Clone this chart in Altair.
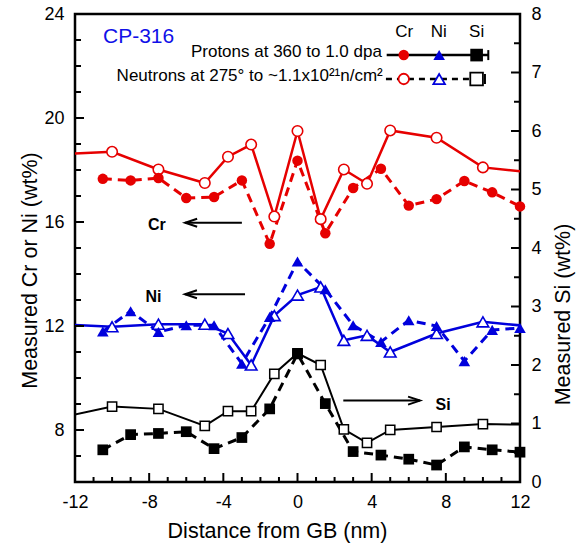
import altair as alt
import pandas as pd

# ---------------- data ----------------
# series drawn with solid lines (open markers) -- "Protons"
x_solid = [-12.5, -10, -7.5, -5, -3.75, -2.5, -1.25, 0, 1.25, 2.5, 3.75, 5, 7.5, 10, 12.5]
cr_solid = [18.62, 18.70, 18.02, 17.50, 18.51, 18.98, 16.21, 19.50, 16.11, 18.02, 17.47, 19.52, 19.24, 18.10, 17.92]
ni_solid = [12.05, 11.97, 12.07, 12.07, 11.71, 10.50, 12.40, 13.19, 13.50, 11.45, 11.64, 11.00, 11.71, 12.16, 11.99]
si_solid = [1.12, 1.29, 1.25, 0.96, 1.21, 1.21, 1.85, 2.20, 2.00, 0.90, 0.67, 0.89, 0.94, 0.99, 0.98]

# series drawn with dashed lines (filled markers) -- "Neutrons"
x_dashed = [-10.5, -9, -7.5, -6, -4.5, -3, -1.5, 0, 1.5, 3, 4.5, 6, 7.5, 9, 10.5, 12]
cr_dashed = [17.66, 17.60, 17.69, 16.92, 16.96, 17.60, 15.16, 18.36, 15.57, 17.31, 18.05, 16.63, 16.88, 17.58, 17.14, 16.60]
ni_dashed = [11.79, 12.57, 11.77, 12.03, 12.03, 10.55, 12.35, 14.48, 13.41, 12.03, 11.39, 12.22, 12.00, 10.65, 11.85, 11.92]
si_dashed = [0.55, 0.81, 0.83, 0.86, 0.57, 0.76, 1.25, 2.19, 1.34, 0.52, 0.46, 0.39, 0.29, 0.60, 0.55, 0.51]

elements = ["Cr", "Ni", "Si"]

# axis ticks
x_labels = [-12, -8, -4, 0, 4, 8, 12]
x_minor = [v for v in range(-11, 12) if v % 4 != 0]
left_labels = [8, 12, 16, 20, 24]
left_major = [8, 12, 16, 20]
left_minor = [v for v in range(7, 24) if v % 4 != 0]
right_labels = [0, 1, 2, 3, 4, 5, 6, 7, 8]
right_major = [1, 2, 3, 4, 5, 6, 7]
right_minor = [0.5, 1.5, 2.5, 3.5, 4.5, 5.5, 6.5, 7.5]

# annotations (placed on the left scale)
ann_text = ["Cr", "Ni", "Si"]
ann_x = [-7.58, -7.77, 7.85]
ann_y = [15.88, 13.10, 8.96]
arrow_x_start = [-3.0, -2.83, 2.47]
arrow_x_tip = [-6.06, -6.07, 6.61]
arrow_y = [15.97, 13.22, 9.13]

# hand-made legend
legend_title = "CP-316"
legend_title_xy = (-10.49, 23.12)
legend_head_x = [5.75, 7.62, 9.66]
legend_head_y = 23.31
legend_labels = ["Protons at 360 to 1.0 dpa", "Neutrons at 275° to ~1.1x10²¹n/cm²"]
legend_label_x = [4.55, 4.60]
legend_label_y = [22.55, 21.62]
legend_line_x = [[4.81, 10.29], [4.77, 10.11]]
legend_line_y = [22.42, 21.50]
legend_marker_x = [5.73, 7.64, 9.66]

# ---------------- styling ----------------
RED = "#e60000"
BLUE = "#0000dc"
FONT = "Liberation Sans"
W, H = 445, 468

rows = []
for el, ys in zip(elements, [cr_solid, ni_solid, si_solid]):
    for xv, yv in zip(x_solid, ys):
        rows.append({"el": el, "series": "solid", "x": xv, "y": yv})
for el, ys in zip(elements, [cr_dashed, ni_dashed, si_dashed]):
    for xv, yv in zip(x_dashed, ys):
        rows.append({"el": el, "series": "dashed", "x": xv, "y": yv})
df = pd.DataFrame(rows)

xs = alt.Scale(domain=[-12, 12], nice=False, zero=False)
ysl = alt.Scale(domain=[6, 24], nice=False, zero=False)
ysr = alt.Scale(domain=[0, 8], nice=False, zero=False)
col = alt.Scale(domain=elements, range=[RED, BLUE, "black"])
shp = alt.Scale(domain=elements, range=["circle", "triangle-up", "square"])
size_open = alt.Scale(domain=elements, range=[110, 160, 85])
size_fill = alt.Scale(domain=elements, range=[130, 180, 115])

x_axis = alt.Axis(values=x_labels, ticks=False, domain=False, grid=False, labelFlush=False,
                  labelExpr="'' + datum.value",
                  labelFontSize=18, labelPadding=11, labelColor="black",
                  title="Distance from GB (nm)", titleFontSize=21.5, titleFontWeight="normal",
                  titleColor="black", titleX=202, titleY=49, titleAlign="center",
                  titleBaseline="middle")
yl_axis = alt.Axis(values=left_labels, ticks=False, domain=False, grid=False, orient="left",
                   labelFontSize=18, labelPadding=11, labelColor="black",
                   title="Measured Cr or Ni (wt%)", titleFontSize=21.5, titleFontWeight="normal",
                   titleColor="black", titleAngle=270, titleX=-45, titleY=256,
                   titleAlign="center", titleBaseline="middle")
yr_axis = alt.Axis(values=right_labels, ticks=False, domain=False, grid=False, orient="right",
                   labelFontSize=18, labelPadding=11, labelColor="black",
                   title="Measured Si (wt%)", titleFontSize=21.5, titleFontWeight="normal",
                   titleColor="black", titleAngle=270, titleX=43, titleY=300,
                   titleAlign="center", titleBaseline="middle")


def XA(field="x"):
    return alt.X(f"{field}:Q", scale=xs, axis=x_axis)


def YL(field="y"):
    return alt.Y(f"{field}:Q", scale=ysl, axis=yl_axis)


def YR(field="y"):
    return alt.Y(f"{field}:Q", scale=ysr, axis=yr_axis)


base = alt.Chart(df)
left_sel = "datum.el != 'Si'"

# ---- left group: Cr and Ni ----
cn_solid = base.transform_filter(left_sel + " && datum.series == 'solid'").mark_line(
    strokeWidth=2.5, clip=True).encode(
    x=XA(), y=YL(), stroke=alt.Stroke("el:N", scale=col, legend=None), detail="el:N")
cn_dashed = base.transform_filter(left_sel + " && datum.series == 'dashed'").mark_line(
    strokeWidth=3, strokeDash=[9, 6], clip=True).encode(
    x=XA(), y=YL(), stroke=alt.Stroke("el:N", scale=col, legend=None), detail="el:N")
cn_open = base.transform_filter(left_sel + " && datum.series == 'solid' && abs(datum.x) <= 12").mark_point(
    filled=True, fill="white", strokeWidth=1.6, opacity=1).encode(
    x=XA(), y=YL(), stroke=alt.Stroke("el:N", scale=col, legend=None),
    shape=alt.Shape("el:N", scale=shp, legend=None), size=alt.Size("el:N", scale=size_open, legend=None))
cn_fill = base.transform_filter(left_sel + " && datum.series == 'dashed'").mark_point(
    filled=True, opacity=1, strokeWidth=0).encode(
    x=XA(), y=YL(), fill=alt.Fill("el:N", scale=col, legend=None),
    shape=alt.Shape("el:N", scale=shp, legend=None), size=alt.Size("el:N", scale=size_fill, legend=None))


def tick_rules(vals, orient, length):
    d = pd.DataFrame({"v": vals})
    c = alt.Chart(d).mark_rule(color="black", strokeWidth=2)
    if orient == "left":
        return c.encode(y=YL("v"), x=alt.value(0), x2=alt.value(length))
    if orient == "right":
        return c.encode(y=YR("v"), x=alt.value(W), x2=alt.value(W - length))
    return c.encode(x=XA("v"), y=alt.value(H), y2=alt.value(H - length))


ticks_left = [tick_rules(left_major, "left", 9), tick_rules(left_minor, "left", 6),
              tick_rules(x_labels[1:-1], "bottom", 9), tick_rules(x_minor, "bottom", 5)]

ann_df = pd.DataFrame({"t": ann_text, "x": ann_x, "y": ann_y})
ann = alt.Chart(ann_df).mark_text(font=FONT, fontSize=16, fontWeight="bold", color="black",
                                  baseline="middle", align="center").encode(x=XA(), y=YL(), text="t:N")
arr_df = pd.DataFrame({"x": arrow_x_start, "x2": arrow_x_tip, "y": arrow_y})
shafts = alt.Chart(arr_df).mark_rule(color="black", strokeWidth=2).encode(
    x=XA(), x2="x2:Q", y=YL())
heads_l = alt.Chart(arr_df.iloc[:2]).mark_point(
    shape="M2.4,-0.8L0,0L2.4,0.8", size=100, filled=False, color="black", strokeWidth=2,
    opacity=1).encode(x=XA("x2"), y=YL())
heads_r = alt.Chart(arr_df.iloc[2:]).mark_point(
    shape="M-2.4,-0.8L0,0L-2.4,0.8", size=100, filled=False, color="black", strokeWidth=2,
    opacity=1).encode(x=XA("x2"), y=YL())

# legend
lt_df = pd.DataFrame({"t": [legend_title], "x": [legend_title_xy[0]], "y": [legend_title_xy[1]]})
lg_title = alt.Chart(lt_df).mark_text(font=FONT, fontSize=21, color="#1010e8", align="left",
                                      baseline="middle").encode(x=XA(), y=YL(), text="t:N")
lh_df = pd.DataFrame({"t": elements, "x": legend_head_x, "y": [legend_head_y] * 3})
lg_head = alt.Chart(lh_df).mark_text(font=FONT, fontSize=17, color="black", align="center",
                                     baseline="middle").encode(x=XA(), y=YL(), text="t:N")
ll_df = pd.DataFrame({"t": legend_labels, "x": legend_label_x, "y": legend_label_y})
lg_lab = alt.Chart(ll_df).mark_text(font=FONT, fontSize=17, color="black", align="right",
                                    baseline="middle").encode(x=XA(), y=YL(), text="t:N")
lp_df = pd.DataFrame({"x": legend_line_x[0], "y": [legend_line_y[0]] * 2})
ln_df = pd.DataFrame({"x": legend_line_x[1], "y": [legend_line_y[1]] * 2})
lg_line_p = alt.Chart(lp_df).mark_line(color="black", strokeWidth=2.5).encode(x=XA(), y=YL())
lg_line_n = alt.Chart(ln_df).mark_line(color="black", strokeWidth=2.5, strokeDash=[6, 5]).encode(x=XA(), y=YL())
cap_df = pd.DataFrame({"x": [legend_line_x[0][1], legend_line_x[1][1]], "y": legend_line_y})
lg_caps = alt.Chart(cap_df).mark_point(shape="M0,-1L0,1", size=100, filled=False, color="black",
                                       strokeWidth=2, opacity=1).encode(x=XA(), y=YL())
lm_p = pd.DataFrame({"el": elements, "x": legend_marker_x, "y": [legend_line_y[0]] * 3})
lm_n = pd.DataFrame({"el": elements, "x": legend_marker_x, "y": [legend_line_y[1]] * 3})
lg_mk_p = alt.Chart(lm_p).mark_point(filled=True, opacity=1, strokeWidth=0).encode(
    x=XA(), y=YL(), fill=alt.Fill("el:N", scale=col, legend=None),
    shape=alt.Shape("el:N", scale=shp, legend=None),
    size=alt.Size("el:N", scale=alt.Scale(domain=elements, range=[230, 230, 100]), legend=None))
lg_mk_n = alt.Chart(lm_n).mark_point(filled=True, fill="white", strokeWidth=1.8, opacity=1).encode(
    x=XA(), y=YL(), stroke=alt.Stroke("el:N", scale=col, legend=None),
    shape=alt.Shape("el:N", scale=shp, legend=None),
    size=alt.Size("el:N", scale=alt.Scale(domain=elements, range=[150, 160, 80]), legend=None))

left = alt.layer(cn_solid, cn_dashed, cn_open, cn_fill, *ticks_left, ann, shafts, heads_l, heads_r,
                 lg_title, lg_head, lg_lab, lg_line_p, lg_line_n, lg_caps, lg_mk_p, lg_mk_n)

# ---- right group: Si ----
bs = base.transform_filter("datum.el == 'Si'")
si_s = bs.transform_filter("datum.series == 'solid'").mark_line(
    strokeWidth=2, clip=True, color="black").encode(x=XA(), y=YR())
si_d = bs.transform_filter("datum.series == 'dashed'").mark_line(
    strokeWidth=3, strokeDash=[9, 6], clip=True, color="black").encode(x=XA(), y=YR())
si_o = bs.transform_filter("datum.series == 'solid' && abs(datum.x) <= 12").mark_point(
    shape="square", filled=True, fill="white", stroke="black", strokeWidth=1.5, size=85,
    opacity=1).encode(x=XA(), y=YR())
si_f = bs.transform_filter("datum.series == 'dashed'").mark_point(
    shape="square", filled=True, color="black", size=115, opacity=1).encode(x=XA(), y=YR())
right = alt.layer(si_s, si_d, si_o, si_f, tick_rules(right_major, "right", 9),
                  tick_rules(right_minor, "right", 6))

chart = alt.layer(left, right).resolve_scale(y="independent").properties(
    width=W, height=H,
    padding={"left": 75, "top": 14, "right": 64, "bottom": 66},
    autosize=alt.AutoSizeParams(type="none"),
).configure_view(stroke="black", strokeWidth=2.5).configure_axis(
    labelFont=FONT, titleFont=FONT).configure_text(font=FONT)

chart.save("out.html", embed_options={"renderer": "svg", "actions": False})
